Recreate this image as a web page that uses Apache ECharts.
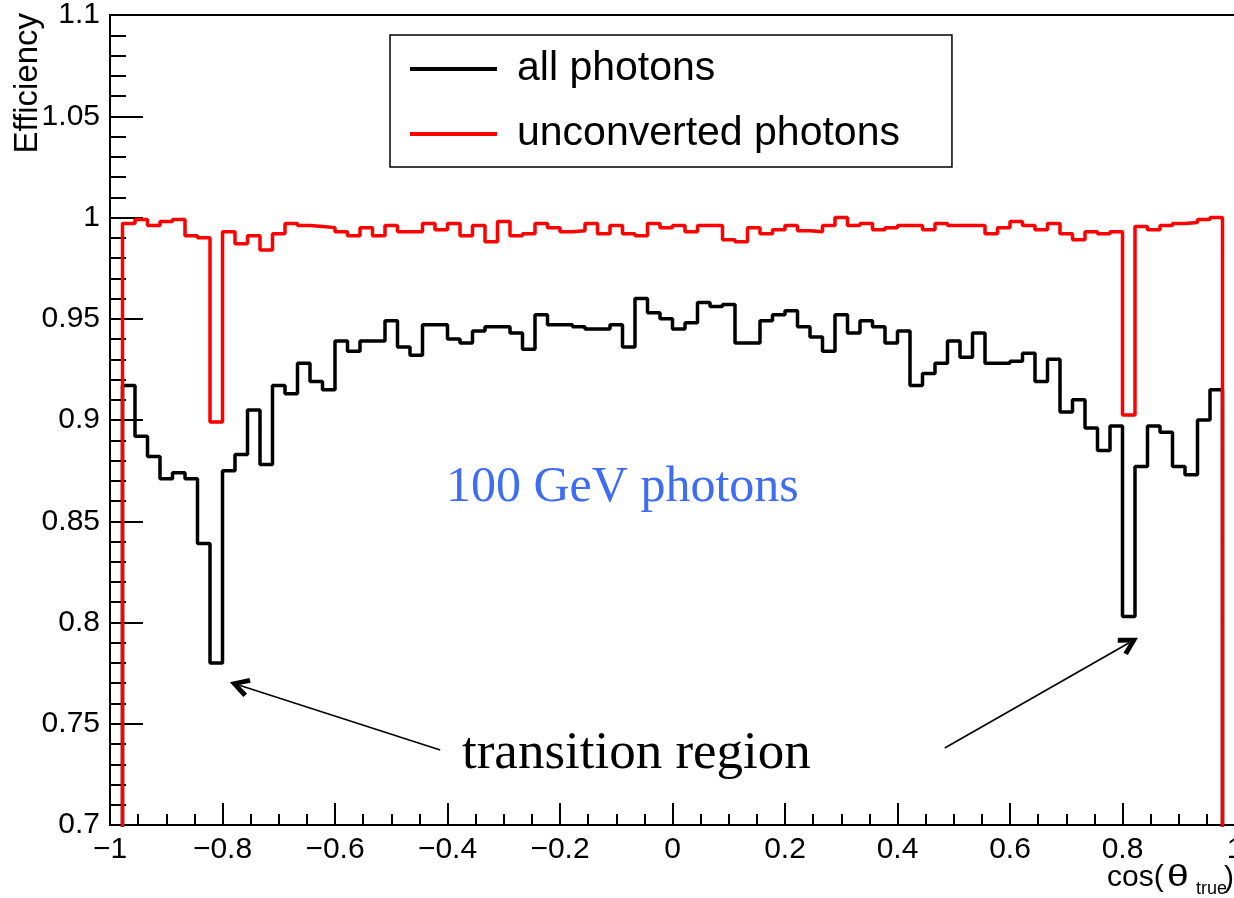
<!DOCTYPE html>
<html>
<head>
<meta charset="utf-8">
<script src="https://cdn.jsdelivr.net/npm/echarts@6/dist/echarts.min.js"></script>
<style>
html, body { margin: 0; padding: 0; background: #fff; }
#main { width: 1234px; height: 898px; }
</style>
</head>
<body>
<div id="main"></div>
<script>
// 90 bins from -1 to 1, first and last bins are empty
var nBins = 90;
var xMin = -1, xMax = 1;

// all photons (black)
var allPhotons = [
  0,
  0.917, 0.892, 0.882, 0.871, 0.874, 0.871, 0.839, 0.780, 0.875, 0.883,
  0.905, 0.878, 0.917, 0.913, 0.928, 0.919, 0.915, 0.939, 0.934, 0.939,
  0.939, 0.949, 0.936, 0.932, 0.947, 0.947, 0.940, 0.938, 0.944, 0.946,
  0.946, 0.943, 0.935, 0.952, 0.947, 0.947, 0.946, 0.945, 0.945, 0.947,
  0.936, 0.960, 0.953, 0.950, 0.945, 0.948, 0.958, 0.956, 0.957, 0.938,
  0.938, 0.949, 0.952, 0.954, 0.946, 0.941, 0.934, 0.952, 0.943, 0.949,
  0.946, 0.938, 0.944, 0.917, 0.923, 0.928, 0.939, 0.931, 0.943, 0.928,
  0.928, 0.929, 0.933, 0.919, 0.930, 0.904, 0.910, 0.896, 0.885, 0.897,
  0.803, 0.877, 0.897, 0.894, 0.877, 0.873, 0.900, 0.915,
  0
];

// unconverted photons (red)
var unconverted = [
  0,
  0.997, 0.999, 0.996, 0.998, 0.999, 0.991, 0.990, 0.899, 0.993, 0.987,
  0.991, 0.984, 0.992, 0.997, 0.996, 0.9955, 0.995, 0.993, 0.991, 0.995,
  0.991, 0.996, 0.993, 0.993, 0.997, 0.994, 0.997, 0.991, 0.996, 0.988,
  0.998, 0.991, 0.992, 0.997, 0.995, 0.993, 0.9935, 0.997, 0.992, 0.996,
  0.992, 0.991, 0.997, 0.995, 0.996, 0.993, 0.996, 0.996, 0.989, 0.988,
  0.995, 0.992, 0.994, 0.996, 0.9935, 0.993, 0.996, 1.000, 0.996, 0.997,
  0.994, 0.995, 0.996, 0.996, 0.994, 0.997, 0.996, 0.996, 0.996, 0.992,
  0.995, 0.998, 0.996, 0.994, 0.997, 0.992, 0.989, 0.993, 0.992, 0.993,
  0.9025, 0.9955, 0.994, 0.996, 0.997, 0.9975, 0.999, 1.000,
  0
];

var xTickValues = [-1, -0.8, -0.6, -0.4, -0.2, 0, 0.2, 0.4, 0.6, 0.8, 1];
var xTickLabels = ['\u22121', '\u22120.8', '\u22120.6', '\u22120.4', '\u22120.2', '0', '0.2', '0.4', '0.6', '0.8', '1'];
var yTickValues = [0.7, 0.75, 0.8, 0.85, 0.9, 0.95, 1, 1.05, 1.1];
var yTickLabels = ['0.7', '0.75', '0.8', '0.85', '0.9', '0.95', '1', '1.05', '1.1'];

// arrows: [from, to] in data coordinates
var arrowLeft = [[-0.413, 0.737], [-0.77, 0.769]];
var arrowRight = [[0.484, 0.738], [0.812, 0.790]];

function histPoints(vals) {
  var w = (xMax - xMin) / nBins;
  var pts = [];
  for (var i = 0; i < vals.length; i++) {
    pts.push([xMin + i * w, vals[i]]);
  }
  pts.push([xMax, vals[vals.length - 1]]);
  return pts;
}

function lookup(values, labels, v) {
  for (var i = 0; i < values.length; i++) {
    if (Math.abs(values[i] - v) < 1e-6) return labels[i];
  }
  return '';
}

var font = 'Liberation Sans';
var serif = 'Liberation Serif';
// open arrow head, tip at the top
var chevron = 'path://M5,0 L10,8.6 L7.9,9.9 L5,4.6 L2.1,9.9 L0,8.6 Z';

var myChart = echarts.init(document.getElementById('main'));
myChart.setOption({
  animation: false,
  backgroundColor: '#fff',
  grid: {
    left: 110, top: 15, width: 1125, height: 810,
    containLabel: false, outerBoundsMode: 'none',
    show: true, borderColor: '#000', borderWidth: 2
  },
  legend: {
    left: 390, top: 35,
    orient: 'vertical',
    padding: [12, 52, 11, 20],
    itemGap: 21,
    itemWidth: 87, itemHeight: 4,
    icon: 'rect',
    borderColor: '#000', borderWidth: 1.5,
    backgroundColor: '#fff',
    textStyle: { fontFamily: font, fontSize: 41, lineHeight: 44, color: '#000', padding: [0, 0, 0, 15] },
    data: ['all photons', 'unconverted photons']
  },
  xAxis: {
    type: 'value', min: xMin, max: xMax, interval: 0.2,
    axisLine: { onZero: false, lineStyle: { color: '#000', width: 2 } },
    axisTick: { inside: true, length: 22, lineStyle: { color: '#000', width: 2 } },
    minorTick: { show: true, splitNumber: 4, length: 11, lineStyle: { color: '#000', width: 2 } },
    splitLine: { show: false },
    axisLabel: {
      margin: 10, fontFamily: font, fontSize: 30, color: '#000',
      showMinLabel: true, showMaxLabel: true,
      formatter: function (v) { return lookup(xTickValues, xTickLabels, v); }
    }
  },
  yAxis: {
    type: 'value', min: 0.7, max: 1.1, interval: 0.05,
    axisLine: { show: true, onZero: false, lineStyle: { color: '#000', width: 2 } },
    axisTick: { show: true, inside: true, length: 33, lineStyle: { color: '#000', width: 2 } },
    minorTick: { show: true, splitNumber: 5, length: 16, lineStyle: { color: '#000', width: 2 } },
    splitLine: { show: false },
    axisLabel: {
      margin: 10, fontFamily: font, fontSize: 30, color: '#000',
      padding: [10, 0, 0, 0],
      showMinLabel: true, showMaxLabel: true,
      formatter: function (v) { return lookup(yTickValues, yTickLabels, v); }
    }
  },
  series: [
    {
      name: 'all photons',
      type: 'line', step: 'end', showSymbol: false, symbol: 'none',
      clip: true,
      color: '#000',
      lineStyle: { color: '#000', width: 3.5 },
      data: histPoints(allPhotons),
      markLine: {
        silent: true,
        symbol: ['none', chevron],
        symbolSize: [20, 20],
        label: { show: false },
        lineStyle: { color: '#000', width: 1.6, type: 'solid' },
        data: [
          [{ coord: arrowLeft[0] }, { coord: arrowLeft[1] }],
          [{ coord: arrowRight[0] }, { coord: arrowRight[1] }]
        ]
      }
    },
    {
      name: 'unconverted photons',
      type: 'line', step: 'end', showSymbol: false, symbol: 'none',
      clip: true,
      color: '#ff0000',
      lineStyle: { color: '#ff0000', width: 3.5 },
      data: histPoints(unconverted)
    }
  ],
  graphic: [
    {
      type: 'text', x: 28, y: 13, rotation: Math.PI / 2,
      style: { text: 'Efficiency', fontFamily: font, fontSize: 33, fill: '#000', align: 'right', verticalAlign: 'middle' }
    },
    {
      type: 'text', x: 1107, y: 878,
      style: { text: 'cos(', fontFamily: font, fontSize: 30, fill: '#000', align: 'left', verticalAlign: 'middle' }
    },
    {
      type: 'text', x: 1167, y: 878, scaleX: 1.3,
      style: { text: '\u03b8', fontFamily: font, fontSize: 30, fill: '#000', align: 'left', verticalAlign: 'middle' }
    },
    {
      type: 'text', x: 1196, y: 889,
      style: { text: 'true', fontFamily: font, fontSize: 18, fill: '#000', align: 'left', verticalAlign: 'middle' }
    },
    {
      type: 'text', x: 1224, y: 879,
      style: { text: ')', fontFamily: font, fontSize: 30, fill: '#000', align: 'left', verticalAlign: 'middle' }
    },
    {
      type: 'text', x: 446, y: 488,
      style: { text: '100 GeV photons', fontFamily: serif, fontSize: 50, fill: '#3f6cf4', align: 'left', verticalAlign: 'middle' }
    },
    {
      type: 'text', x: 462, y: 754,
      style: { text: 'transition region', fontFamily: serif, fontSize: 53, fill: '#000', align: 'left', verticalAlign: 'middle' }
    }
  ]
});
</script>
</body>
</html>
